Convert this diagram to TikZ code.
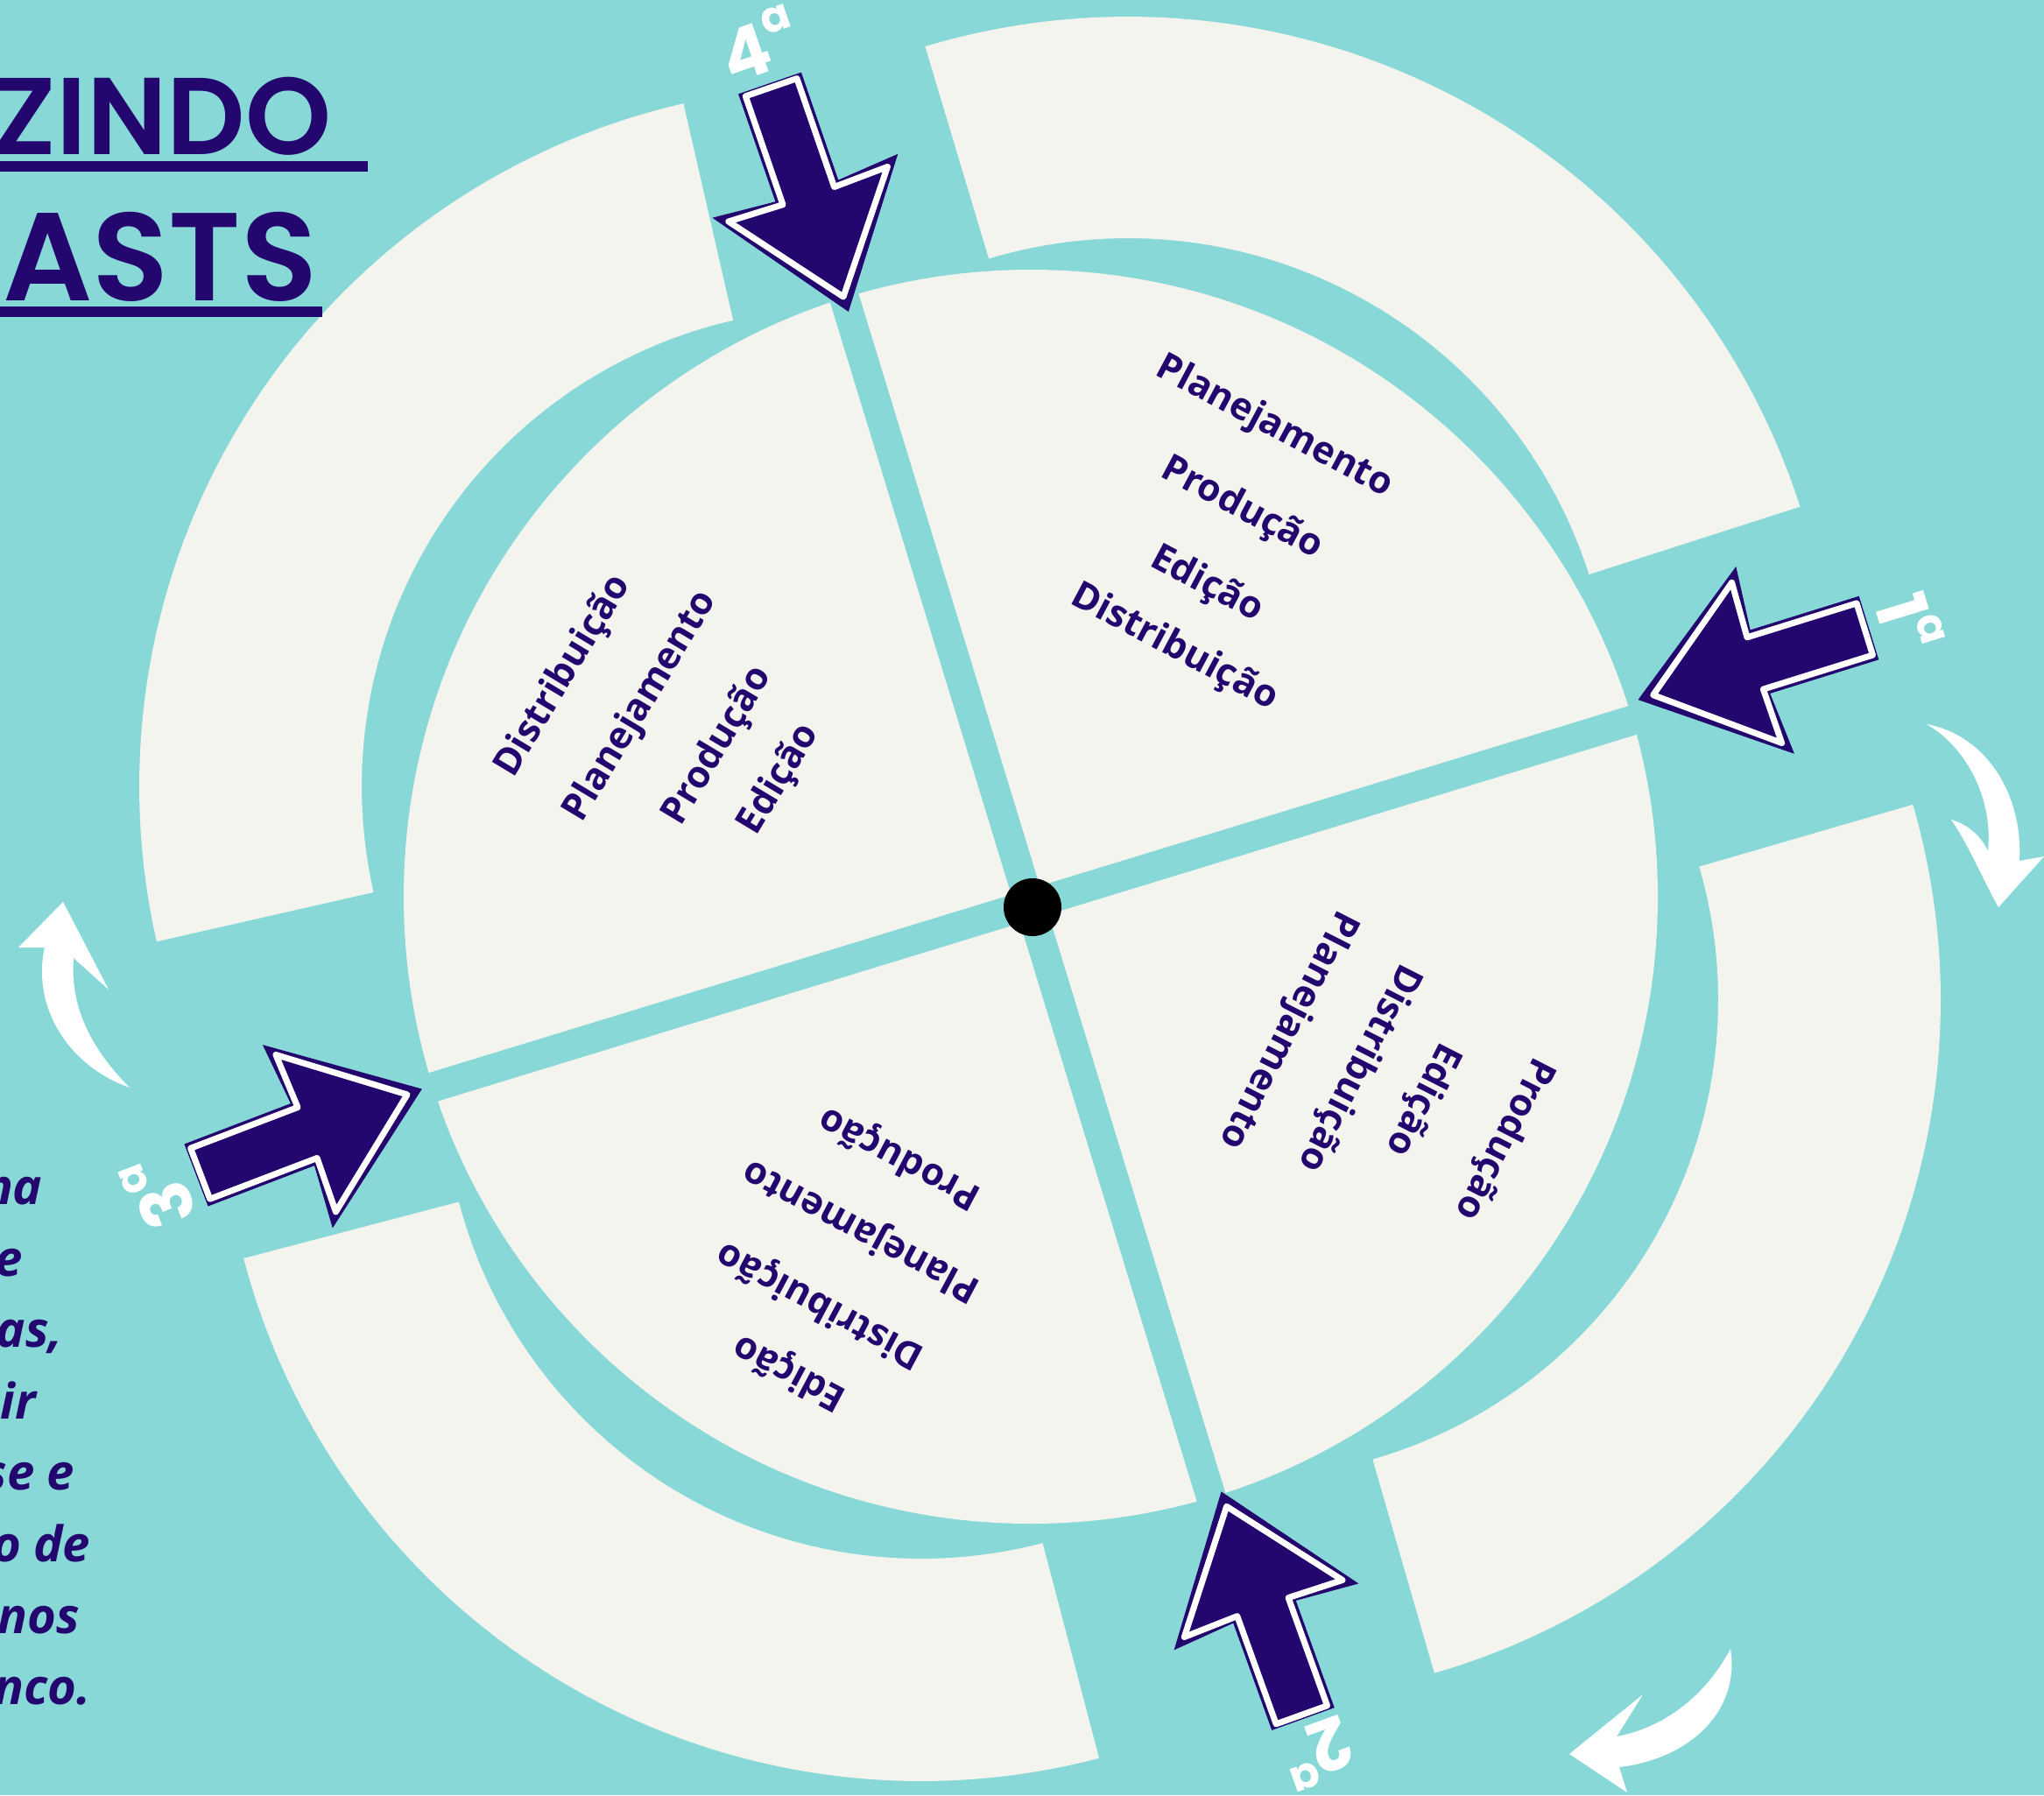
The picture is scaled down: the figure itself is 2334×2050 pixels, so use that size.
\documentclass[tikz,border=0pt]{standalone}
\usepackage{fontspec}
\setmainfont{Open Sans}
\newfontfamily\titlefont{Poppins SemiBold}
\newfontfamily\labelfont{Poppins}
\definecolor{bgc}{RGB}{137,216,216}
\definecolor{paper}{RGB}{244,244,239}
\definecolor{ink}{RGB}{35,7,111}
\newcommand\ringseg[6]{\fill[paper] plot[domain=#3:#4,samples=90] ({#1+#5*cos(\x)},{#2+#5*sin(\x)}) -- plot[domain=#4:#3,samples=90] ({#1+#6*cos(\x)},{#2+#6*sin(\x)}) -- cycle;}
\newcommand\blockarrow[3]{\begin{scope}[shift={(#1,#2)},rotate=#3]
 \fill[ink] (0,-38) -- (130,-38) -- (124,-112) -- (276,0) -- (124,112) -- (130,38) -- (0,38) -- cycle;
 \filldraw[fill=ink,draw=white,line width=0.7mm,line join=round] (5,-31) -- (136,-31) -- (134,-96) -- (258,0) -- (134,96) -- (136,31) -- (5,31) -- cycle;
\end{scope}}
\newcommand\ordsup{\raisebox{0.5em}{\fontsize{14}{16}\selectfont a}}
\begin{document}
\begin{tikzpicture}[x=0.1mm,y=-0.1mm,
  qtext/.style={font=\fontsize{12.2}{14}\selectfont\bfseries,text=ink,inner sep=0pt},
  lab/.style={font=\labelfont\bfseries\fontsize{23}{26}\selectfont,text=white,inner sep=0pt},
  para/.style={font=\fontsize{16}{19}\selectfont\bfseries\itshape,text=ink,inner sep=0pt,anchor=base east},
  ttl/.style={text=ink,inner sep=0pt,anchor=base east}]
\useasboundingbox (0,0) rectangle (2334,2050);
\clip (0,0) rectangle (2334,2050);
\fill[bgc] (0,0) rectangle (2334,2050);
% outer ring segments
\ringseg{959}{898}{167.2}{257.1}{800}{546}
\ringseg{1288}{825}{-106.7}{-17.8}{806}{553}
\ringseg{1416}{1142}{-16.2}{73.9}{800}{546}
\ringseg{1052}{1234}{75.3}{165.3}{800}{546}
% pie
\fill[paper] (1177,1024) circle[radius=71.6mm];
\begin{scope}
\clip (1177,1024) circle[radius=72mm];
\draw[bgc,line width=3.4mm] (942,268) -- (1410,1798);
\draw[bgc,line width=3.4mm] (411,1267) -- (1941,799);
\end{scope}
\node[circle,fill=black,minimum size=6.6mm,inner sep=0pt] (hub) at (1179,1036) {};
% quadrant texts
\node[qtext,rotate=-28] (tr1) at (1455,488) {Planejamento};
\node[qtext,rotate=-28] (tr2) at (1418,581) {Produção};
\node[qtext,rotate=-28] (tr3) at (1378,668) {Edição};
\node[qtext,rotate=-28] (tr4) at (1341,740) {Distribuição};
\node[qtext,rotate=59] (tl1) at (644,772) {Distribuição};
\node[qtext,rotate=59] (tl2) at (732,807) {Planejamento};
\node[qtext,rotate=59] (tl3) at (820,852) {Produção};
\node[qtext,rotate=59] (tl4) at (890,890) {Edição};
\node[qtext,rotate=152] (bl1) at (1028,1321) {Produção};
\node[qtext,rotate=152] (bl2) at (984,1404) {Planejamento};
\node[qtext,rotate=152] (bl3) at (937,1489) {Distribuição};
\node[qtext,rotate=152] (bl4) at (902,1566) {Edição};
\node[qtext,rotate=-117] (br1) at (1470,1176) {Planejamento};
\node[qtext,rotate=-117] (br2) at (1551,1219) {Distribuição};
\node[qtext,rotate=-117] (br3) at (1624,1255) {Edição};
\node[qtext,rotate=-117] (br4) at (1717,1300) {Produção};
% block arrows
\blockarrow{879}{95}{-71}
\blockarrow{2134}{717}{-162.7}
\blockarrow{1488}{1963}{109.8}
\blockarrow{224}{1342}{20.9}
% labels
\node[lab,rotate=19] (lab4) at (866,50) {4\ordsup};
\node[lab,rotate=-73] (lab1) at (2181,710) {1\ordsup};
\node[lab,rotate=200] (lab2) at (1505,2002) {2\ordsup};
\node[lab,rotate=111] (lab3) at (180,1362) {3\ordsup};
% white curved arrows
\fill[white] (2200,827) .. controls (2262,838) and (2310,900) .. (2306,983) -- (2334,978) -- (2282,1036) .. controls (2262,1000) and (2248,965) .. (2228,936) .. controls (2248,942) and (2262,955) .. (2270,972) .. controls (2276,915) and (2248,855) .. (2200,827) -- cycle;
\fill[white] (1976,1883) .. controls (1987,1952) and (1932,2008) .. (1849,2018) -- (1858,2047) -- (1792,2003) -- (1876,1935) -- (1846,1983) .. controls (1905,1972) and (1950,1932) .. (1976,1883) -- cycle;
\fill[white] (148,1242) .. controls (78,1217) and (36,1150) .. (51,1082) -- (21,1082) -- (72,1030) -- (124,1130) -- (84,1094) .. controls (80,1148) and (102,1196) .. (148,1242) -- cycle;
% title
\node[ttl,font=\titlefont\fontsize{35.5}{40}\selectfont] (t1) at (379,176) {ZINDO};
\fill[ink] (0,184) rectangle (420,196);
\node[ttl,font=\titlefont\fontsize{40.7}{46}\selectfont] (t2) at (363,343) {CASTS};
\fill[ink] (0,350) rectangle (368,362);
% paragraph fragments
\node[para] (p1) at (49,1375) {ma};
\node[para] (p2) at (27,1457) {e};
\node[para] (p3) at (72,1538) {ras,};
\node[para] (p4) at (42,1620) {ir};
\node[para] (p5) at (86,1701) {se e};
\node[para] (p6) at (104,1783) {o de};
\node[para] (p7) at (92,1865) {nos};
\node[para] (p8) at (104,1946) {nco.};
\end{tikzpicture}
\end{document}
